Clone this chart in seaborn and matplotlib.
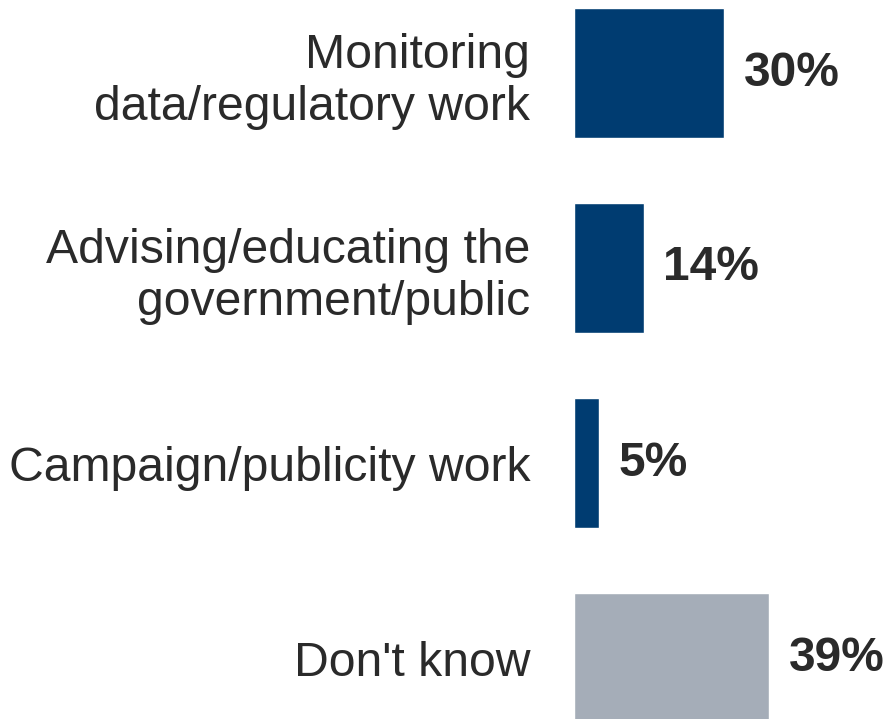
import matplotlib
matplotlib.use("Agg")
import matplotlib.pyplot as plt
import seaborn as sns
import pandas as pd

categories = ["Monitoring\ndata/regulatory work",
              "Advising/educating the\ngovernment/public",
              "Campaign/publicity work",
              "Don't know"]
values = [30, 14, 5, 39]
colors = ["#003C71", "#003C71", "#003C71", "#A5ADB8"]

df = pd.DataFrame({"cat": categories, "val": values})

sns.set_theme(style="white")
plt.rcParams['font.family'] = ['Liberation Sans', 'DejaVu Sans']

fig = plt.figure(figsize=(8.88, 7.19), dpi=100)
ax = fig.add_axes([574/888, 0, 314/888, 1])
sns.barplot(data=df, x="val", y="cat", hue="cat", palette=colors,
            width=130/195, legend=False, ax=ax, orient="h", saturation=1)

ax.set_xlim(0, 62.8)
ax.set_ylim(3 + (719 - 658) / 195, -73 / 195)
for s in ax.spines.values():
    s.set_visible(False)
ax.set_xticks([])
ax.set_xlabel("")
ax.set_ylabel("")
ax.tick_params(axis="y", length=0, pad=31.5, labelsize=34.7, labelcolor="#2a2a2a")

for i, v in enumerate(values):
    ax.annotate(f"{v}%", xy=(v, i), xytext=(14, 0), textcoords="offset points",
                ha="left", va="center", fontsize=34.5, fontweight="bold",
                color="#2a2a2a", annotation_clip=False)

fig.savefig("out.png", dpi=100)
